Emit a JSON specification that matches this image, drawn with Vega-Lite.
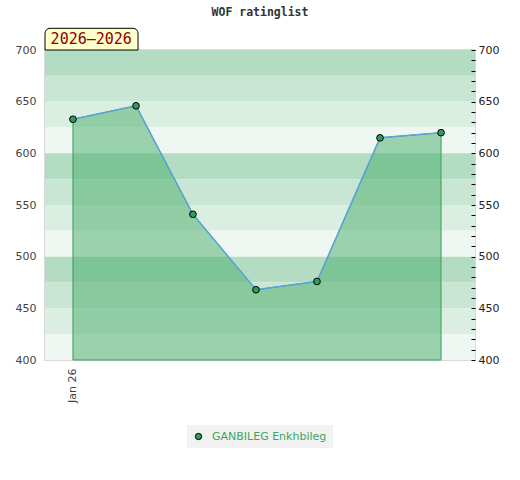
{
  "$schema": "https://vega.github.io/schema/vega-lite/v6.json",
  "width": 430,
  "height": 310,
  "autosize": {"type": "none"},
  "padding": {"left": 45, "top": 50, "right": 45, "bottom": 120},
  "title": {
    "text": "WOF ratinglist",
    "font": "DejaVu Sans Mono",
    "fontSize": 11.5,
    "fontWeight": "bold",
    "color": "#333333",
    "offset": 9
  },
  "config": {
    "view": {"stroke": "#d9d9d9", "strokeWidth": 2},
    "axis": {
      "labelFont": "DejaVu Sans",
      "labelFontSize": 11,
      "labelColor": "#444444",
      "grid": false,
      "domain": false,
      "title": null
    }
  },
  "datasets": {
    "bands": [
      {"lo": 675, "hi": 700, "shade": "a"},
      {"lo": 650, "hi": 675, "shade": "b"},
      {"lo": 625, "hi": 650, "shade": "c"},
      {"lo": 600, "hi": 625, "shade": "d"},
      {"lo": 575, "hi": 600, "shade": "a"},
      {"lo": 550, "hi": 575, "shade": "b"},
      {"lo": 525, "hi": 550, "shade": "c"},
      {"lo": 500, "hi": 525, "shade": "d"},
      {"lo": 475, "hi": 500, "shade": "a"},
      {"lo": 450, "hi": 475, "shade": "b"},
      {"lo": 425, "hi": 450, "shade": "c"},
      {"lo": 400, "hi": 425, "shade": "d"}
    ],
    "ratings": [
      {"date": "2026/01/01", "rating": 633, "player": "GANBILEG Enkhbileg"},
      {"date": "2026/02/01", "rating": 646, "player": "GANBILEG Enkhbileg"},
      {"date": "2026/03/01", "rating": 541, "player": "GANBILEG Enkhbileg"},
      {"date": "2026/04/01", "rating": 468, "player": "GANBILEG Enkhbileg"},
      {"date": "2026/05/01", "rating": 476, "player": "GANBILEG Enkhbileg"},
      {"date": "2026/06/01", "rating": 615, "player": "GANBILEG Enkhbileg"},
      {"date": "2026/07/01", "rating": 620, "player": "GANBILEG Enkhbileg"}
    ],
    "period": [{"label": "2026–2026"}]
  },
  "layer": [
    {
      "data": {"name": "bands"},
      "mark": {"type": "rect"},
      "encoding": {
        "y": {
          "field": "lo",
          "type": "quantitative",
          "scale": {"domain": [400, 700], "nice": false, "zero": false},
          "axis": {
            "orient": "left",
            "values": [400, 450, 500, 550, 600, 650, 700],
            "ticks": false,
            "labelPadding": 9
          }
        },
        "y2": {"field": "hi"},
        "fill": {
          "field": "shade",
          "type": "nominal",
          "scale": {
            "domain": ["a", "b", "c", "d"],
            "range": ["#b3dcc2", "#c8e6d3", "#dbeee2", "#eff7f2"]
          },
          "legend": null
        }
      }
    },
    {
      "data": {"name": "ratings"},
      "mark": {
        "type": "area",
        "color": "#48ad69",
        "fillOpacity": 0.5,
        "stroke": "#3d9b5c",
        "strokeWidth": 1
      },
      "encoding": {
        "x": {
          "field": "date",
          "type": "temporal",
          "scale": {
            "domain": [
              {"year": 2025, "month": 12, "date": 18, "hours": 6},
              {"year": 2026, "month": 7, "date": 17, "hours": 17}
            ]
          },
          "axis": {
            "values": [{"year": 2026, "month": 1, "date": 1}],
            "format": "%b %y",
            "labelAngle": 270,
            "ticks": false,
            "labelPadding": 8
          }
        },
        "y": {"field": "rating", "type": "quantitative", "axis": null},
        "y2": {"datum": 400}
      }
    },
    {
      "data": {"name": "ratings"},
      "mark": {"type": "line", "color": "#5ba3d9", "strokeWidth": 1.5},
      "encoding": {
        "x": {"field": "date", "type": "temporal"},
        "y": {"field": "rating", "type": "quantitative", "axis": null}
      }
    },
    {
      "data": {"name": "ratings"},
      "mark": {
        "type": "point",
        "filled": true,
        "shape": "circle",
        "size": 45,
        "stroke": "#000000",
        "strokeWidth": 1,
        "opacity": 1
      },
      "encoding": {
        "x": {"field": "date", "type": "temporal"},
        "y": {
          "field": "rating",
          "type": "quantitative",
          "axis": {
            "orient": "right",
            "zindex": 1,
            "values": [400, 410, 420, 430, 440, 450, 460, 470, 480, 490, 500, 510, 520, 530, 540, 550, 560, 570, 580, 590, 600, 610, 620, 630, 640, 650, 660, 670, 680, 690, 700],
            "labelExpr": "datum.value % 50 == 0 ? datum.label : ''",
            "ticks": true,
            "tickSize": -4,
            "tickColor": "#000000",
            "tickWidth": 1,
            "labelPadding": 7,
            "labelColor": "#222222"
          }
        },
        "color": {
          "field": "player",
          "type": "nominal",
          "scale": {"range": ["#2f9e5a"]},
          "legend": {
            "orient": "none",
            "legendX": 142,
            "legendY": 375,
            "title": null,
            "fillColor": "#f2f2f2",
            "padding": 6,
            "labelOffset": 8,
            "labelColor": "#3aa65d",
            "labelFont": "DejaVu Sans",
            "labelFontSize": 11,
            "symbolType": "circle",
            "symbolSize": 40,
            "symbolStrokeColor": "#000000",
            "symbolStrokeWidth": 1
          }
        }
      }
    },
    {
      "data": {"name": "period"},
      "mark": {
        "type": "rect",
        "fill": "#ffffcc",
        "stroke": "#000000",
        "strokeWidth": 1,
        "cornerRadiusTopLeft": 5,
        "cornerRadiusTopRight": 5
      },
      "encoding": {
        "x": {"datum": {"year": 2025, "month": 12, "date": 18, "hours": 6}, "type": "temporal"},
        "x2": {"datum": {"year": 2026, "month": 2, "date": 2}},
        "y": {"datum": 700, "axis": null},
        "y2": {"datum": 721}
      }
    },
    {
      "data": {"name": "period"},
      "mark": {
        "type": "text",
        "font": "DejaVu Sans Mono",
        "fontSize": 15,
        "color": "#8b0000",
        "align": "center",
        "baseline": "middle"
      },
      "encoding": {
        "x": {"datum": {"year": 2026, "month": 1, "date": 10}, "type": "temporal"},
        "y": {"datum": 710.5, "axis": null},
        "text": {"field": "label"}
      }
    }
  ],
  "resolve": {"axis": {"y": "independent"}}
}
